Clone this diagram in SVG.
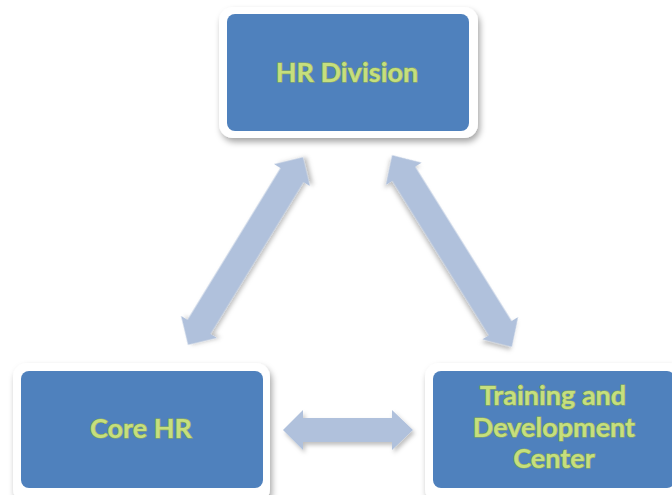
<svg xmlns="http://www.w3.org/2000/svg" width="672" height="495" viewBox="0 0 672 495">
  <defs>
    <filter id="boxShadow" x="-10%" y="-10%" width="125%" height="130%">
      <feDropShadow dx="2" dy="4" stdDeviation="3" flood-color="#000" flood-opacity="0.35"/>
    </filter>
    <filter id="arrowShadow" x="-10%" y="-20%" width="130%" height="150%">
      <feDropShadow dx="2" dy="3" stdDeviation="2" flood-color="#000" flood-opacity="0.25"/>
    </filter>
    <style>
      .frame { fill: #ffffff; filter: url(#boxShadow); }
      .panel { fill: #4f81bd; }
      .label { font-family: Lato, "Open Sans", "Liberation Sans", sans-serif; font-weight: bold; font-size: 27px;
               fill: #c6df7e; stroke: #8fae55; stroke-width: 1.2; paint-order: stroke; text-anchor: middle; }
      .arrow { fill: #b0c1dc; filter: url(#arrowShadow); }
    </style>
  </defs>

  <!-- links between the three units -->
  <g id="connectors">
    <!-- Core HR <-> HR Division -->
    <polygon class="arrow" transform="translate(245.5,251) rotate(-58.5)"
             points="-110,0 -89,-21 -89,-13.5 89,-13.5 89,-21 110,0 89,21 89,13.5 -89,13.5 -89,21"/>
    <!-- HR Division <-> Training and Development Center -->
    <polygon class="arrow" transform="translate(452,251) rotate(58)"
             points="-113,0 -91,-21 -91,-13.5 91,-13.5 91,-21 113,0 91,21 91,13.5 -91,13.5 -91,21"/>
    <!-- Core HR <-> Training and Development Center -->
    <polygon class="arrow" transform="translate(348,430)"
             points="-65,0 -45,-20 -45,-12 44,-12 44,-20 65,0 44,20 44,12 -45,12 -45,20"/>
  </g>

  <g id="hr-division">
    <rect class="frame" x="219" y="7" width="259" height="131" rx="14"/>
    <rect class="panel" x="227" y="14" width="242" height="117" rx="8"/>
    <text class="label" x="347" y="82">HR Division</text>
  </g>

  <g id="core-hr">
    <rect class="frame" x="13" y="363" width="257" height="140" rx="14"/>
    <rect class="panel" x="21" y="371" width="242" height="117" rx="8"/>
    <text class="label" x="141" y="438">Core HR</text>
  </g>

  <g id="training-center">
    <rect class="frame" x="425" y="363" width="258" height="140" rx="14"/>
    <rect class="panel" x="433" y="371" width="242" height="117" rx="8"/>
    <text class="label" x="553" y="405">Training and</text>
    <text class="label" x="554" y="437">Development</text>
    <text class="label" x="554" y="468">Center</text>
  </g>
</svg>
